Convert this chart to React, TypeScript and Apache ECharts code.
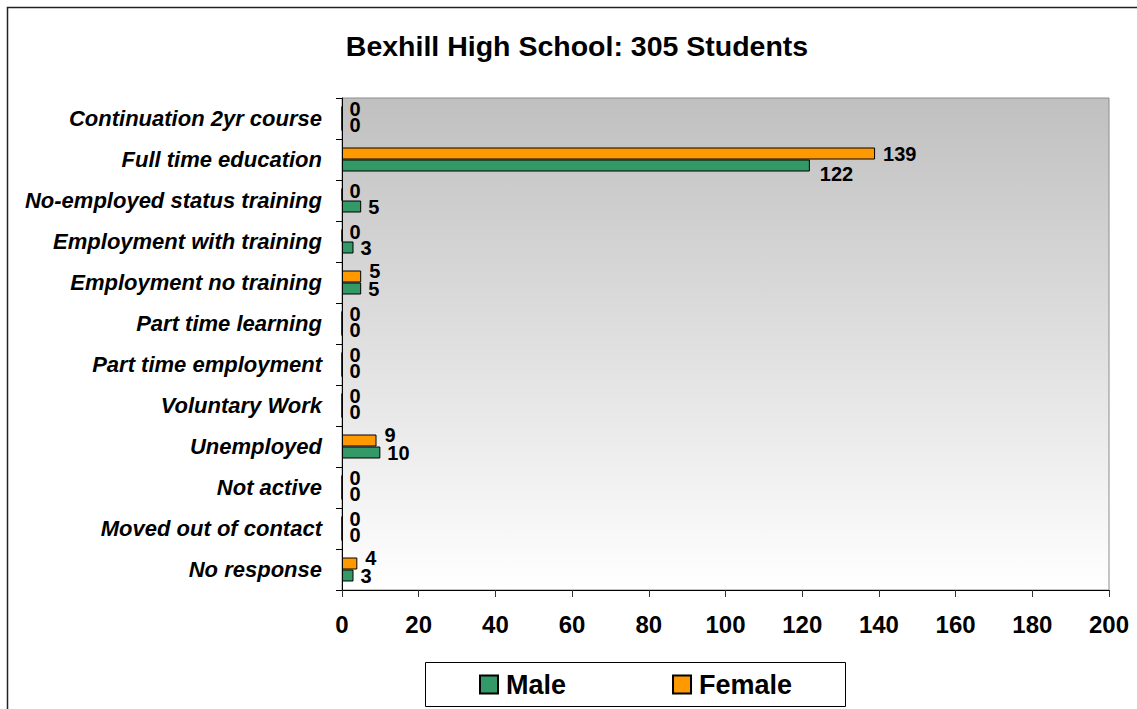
import React, { useEffect, useRef } from "react";
import * as echarts from "echarts";

const chartTitle = "Bexhill High School: 305 Students";
const categories = [
  "Continuation 2yr course",
  "Full time education",
  "No-employed status training",
  "Employment with training",
  "Employment no training",
  "Part time learning",
  "Part time employment",
  "Voluntary Work",
  "Unemployed",
  "Not active",
  "Moved out of contact",
  "No response",
];
const maleValues = [0, 122, 5, 3, 5, 0, 0, 0, 10, 0, 0, 3];
const femaleValues = [0, 139, 0, 0, 5, 0, 0, 0, 9, 0, 0, 4];
const seriesNames = ["Male", "Female"];

const FONT = "Arial, 'Liberation Sans', Helvetica, sans-serif";
const GREEN = "#339966";
const ORANGE = "#FF9900";

export default function App() {
  const ref = useRef<HTMLDivElement>(null);
  useEffect(() => {
    if (!ref.current) return;
    const chart = echarts.init(ref.current, undefined, { renderer: "svg" });
    const femaleData = femaleValues.map((v, i) => ({
      value: v,
      label: { offset: i === 1 ? [3, 0] : v === 0 ? [2, -4] : [3, -6] },
    }));
    const maleData = maleValues.map((v, i) => ({
      value: v,
      label: { offset: i === 1 ? [5, 8] : [2, 0] },
    }));
    const labelStyle = {
      show: true,
      position: "right",
      distance: 5,
      color: "#000",
      fontFamily: FONT,
      fontWeight: "bold",
      fontSize: 20,
    };
    chart.setOption({
      animation: false,
      backgroundColor: "#fff",
      graphic: [
        {
          type: "rect",
          shape: { x: 7.5, y: 7.5, width: 1140, height: 710 },
          style: { fill: "none", stroke: "#222", lineWidth: 1.5 },
          silent: true,
        },
        {
          type: "text",
          x: 577,
          y: 46,
          style: {
            text: chartTitle,
            fontFamily: FONT,
            fontWeight: "bold",
            fontSize: 28.5,
            fill: "#000",
            textAlign: "center",
            textVerticalAlign: "middle",
          },
        },
        {
          type: "rect",
          shape: { x: 425.5, y: 662.5, width: 420, height: 44 },
          style: { fill: "#fff", stroke: "#000", lineWidth: 1 },
          z: -1,
          silent: true,
        },
      ],
      legend: {
        data: seriesNames,
        left: 479,
        top: 671,
        padding: 0,
        itemGap: 106,
        itemWidth: 18,
        itemHeight: 18,
        icon: "rect",
        textStyle: {
          fontFamily: FONT,
          fontWeight: "bold",
          fontSize: 27,
          color: "#000",
          padding: [0, 0, 0, 3],
        },
        z: 5,
      },
      grid: {
        left: 342,
        top: 98,
        right: 28,
        bottom: 119,
        show: true,
        borderColor: "#8c8c8c",
        borderWidth: 1,
        backgroundColor: new echarts.graphic.LinearGradient(0, 0, 0, 1, [
          { offset: 0, color: "#c0c0c0" },
          { offset: 1, color: "#ffffff" },
        ]),
      },
      xAxis: {
        type: "value",
        min: 0,
        max: 200,
        interval: 20,
        splitLine: { show: false },
        axisLine: { show: true, lineStyle: { color: "#000", width: 1 } },
        axisTick: { show: true, length: 7, lineStyle: { color: "#333" } },
        axisLabel: {
          margin: 22,
          color: "#000",
          fontFamily: FONT,
          fontWeight: "bold",
          fontSize: 24,
        },
      },
      yAxis: {
        type: "category",
        data: categories,
        inverse: true,
        axisLine: { show: true, lineStyle: { color: "#000", width: 1 } },
        axisTick: { show: true, length: 6, lineStyle: { color: "#000" } },
        axisLabel: {
          margin: 20,
          color: "#000",
          fontFamily: FONT,
          fontWeight: "bold",
          fontStyle: "italic",
          fontSize: 22,
        },
      },
      series: [
        {
          name: "Female",
          type: "bar",
          data: femaleData,
          barWidth: 12,
          barGap: "0%",
          itemStyle: { color: ORANGE, borderColor: "#000", borderWidth: 1 },
          label: labelStyle,
        },
        {
          name: "Male",
          type: "bar",
          data: maleData,
          barWidth: 12,
          barGap: "0%",
          itemStyle: { color: GREEN, borderColor: "#000", borderWidth: 1 },
          label: labelStyle,
        },
      ],
    });
    return () => chart.dispose();
  }, []);
  return (
    <div
      ref={ref}
      style={{ position: "absolute", left: 0, top: 0, width: 1137, height: 709 }}
    />
  );
}
